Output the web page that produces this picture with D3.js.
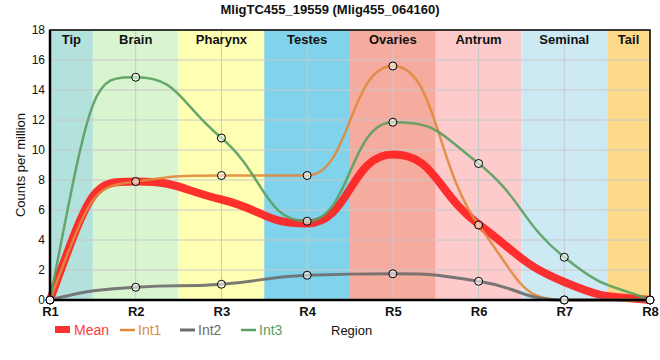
<!DOCTYPE html>
<html><head><meta charset="utf-8">
<script src="https://cdn.jsdelivr.net/npm/d3@7"></script>
<style>body{margin:0;background:#fff;font-family:"Liberation Sans",Arial,sans-serif;}</style>
</head><body><svg id="c" width="660" height="360"></svg>
<script>
const regions = ["R1","R2","R3","R4","R5","R6","R7","R8"];
const tissues = ["Tip","Brain","Pharynx","Testes","Ovaries","Antrum","Seminal","Tail"];
const tissueColors = ["#b3e2dd","#d8f5cf","#ffffb3","#80d3ea","#f5ab9e","#fdcbcb","#cdeaf4","#fdd98a"];
const int1 = [0, 7.9, 8.3, 8.3, 15.6, 5.0, 0, 0];
const int2 = [0, 0.85, 1.05, 1.65, 1.75, 1.25, 0, 0];
const int3 = [0, 14.85, 10.8, 5.25, 11.85, 9.1, 2.85, 0];
const meanVals = [0, 7.9, 6.7, 5.1, 9.7, 5.05, 1.2, 0];
const yTicks = [0,2,4,6,8,10,12,14,16,18];

const svg = d3.select("#c");
const M = {l:50, r:650, t:30, b:300};
const x = d3.scalePoint().domain(regions).range([M.l, M.r]);
const y = d3.scaleLinear().domain([0,18]).range([M.b, M.t]);
const step = x.step();
const bandX0 = i => Math.max(M.l, x(regions[i]) - step/2);
const bandX1 = i => Math.min(M.r, x(regions[i]) + step/2);

// monotone slopes (per region step), flat at local extrema
function slopes(v){
  const n = v.length, s = [];
  for(let i=0;i<n-1;i++) s.push(v[i+1]-v[i]);
  const m = new Array(n).fill(0);
  for(let i=1;i<n-1;i++){
    const a = s[i-1], b = s[i];
    if(a*b <= 0) continue;
    m[i] = Math.sign(b) * Math.min(2*Math.abs(a), 2*Math.abs(b), Math.abs((a+b)/2));
  }
  const ends = [[0, s[0], m[1]], [n-1, s[n-2], m[n-2]]];
  ends.forEach(([i, sec, adj])=>{
    if(sec === 0){ m[i] = 0; return; }
    let e = 2*sec - 0.75*adj;
    if(e*sec < 0) e = 0;
    if(Math.abs(e) > 2*Math.abs(sec)) e = 2*sec;
    m[i] = e;
  });
  return m;
}
// smooth, overshoot-free path with half-step Bezier handles
function smoothPath(v){
  const m = slopes(v);
  const p = d3.path();
  p.moveTo(x(regions[0]), y(v[0]));
  for(let i=0;i<v.length-1;i++){
    const x0 = x(regions[i]), x1 = x(regions[i+1]), h = x1-x0;
    p.bezierCurveTo(x0+h/2, y(v[i]+m[i]/2), x1-h/2, y(v[i+1]-m[i+1]/2), x1, y(v[i+1]));
  }
  return p.toString();
}

// bands
svg.append("g").selectAll("rect").data(tissues).join("rect")
  .attr("x", (d,i)=> bandX0(i)).attr("width", (d,i)=> bandX1(i)-bandX0(i))
  .attr("y", M.t).attr("height", M.b - M.t)
  .attr("fill", (d,i)=> tissueColors[i]);

// grid
const g = svg.append("g");
g.selectAll(".gy").data(yTicks).join("line")
  .attr("x1", M.l).attr("x2", M.r).attr("y1", d=>y(d)).attr("y2", d=>y(d))
  .attr("stroke", "#c8c8c8").attr("stroke-width", 1);
g.selectAll(".gx").data(regions).join("line")
  .attr("x1", d=>x(d)).attr("x2", d=>x(d)).attr("y1", M.t).attr("y2", M.b)
  .attr("stroke", "#c8c8c8").attr("stroke-width", 1);

// tissue labels
svg.append("g").selectAll("text").data(tissues).join("text")
  .attr("x", (d,i)=> (bandX0(i)+bandX1(i))/2)
  .attr("y", 44).attr("text-anchor","middle")
  .attr("font-size", 13).attr("font-weight","bold").attr("fill","#111")
  .text(d=>d);

// lines
svg.append("path").attr("d", smoothPath(meanVals)).attr("fill","none")
  .attr("stroke","#ff1f1f").attr("stroke-opacity",0.92).attr("stroke-width",8);
const series = [
  {name:"Int1", vals:int1, color:"#e0893c", w:2.5},
  {name:"Int2", vals:int2, color:"#6b6b6b", w:3},
  {name:"Int3", vals:int3, color:"#5a9e60", w:2.5}
];
series.forEach(s=>{
  svg.append("path").attr("d", smoothPath(s.vals)).attr("fill","none")
    .attr("stroke", s.color).attr("stroke-opacity",0.9).attr("stroke-width", s.w);
});

// axes frame
svg.append("rect").attr("x",M.l).attr("y",M.t).attr("width",M.r-M.l).attr("height",M.b-M.t)
  .attr("fill","none").attr("stroke","#000").attr("stroke-width",1.5);
svg.append("line").attr("x1",M.l).attr("x2",M.l).attr("y1",M.t).attr("y2",M.b+1).attr("stroke","#000").attr("stroke-width",2.5);
svg.append("line").attr("x1",M.l-1).attr("x2",M.r+1).attr("y1",M.b).attr("y2",M.b).attr("stroke","#000").attr("stroke-width",2.5);

// markers
series.forEach(s=>{
  svg.append("g").selectAll("circle").data(s.vals).join("circle")
    .attr("cx",(d,i)=>x(regions[i])).attr("cy",d=>y(d)).attr("r",4)
    .attr("fill","rgba(255,255,255,0.55)").attr("stroke","#000").attr("stroke-width",1);
});

// y axis
const ya = svg.append("g").attr("transform",`translate(${M.l},0)`)
  .call(d3.axisLeft(y).tickValues(yTicks).tickSize(0).tickPadding(5));
ya.select(".domain").remove();
ya.selectAll("text").attr("font-size",12).attr("fill","#111").attr("font-family","Liberation Sans, Arial, sans-serif");
// x axis
const xa = svg.append("g").attr("transform",`translate(0,${M.b})`)
  .call(d3.axisBottom(x).tickSize(0).tickPadding(7));
xa.select(".domain").remove();
xa.selectAll("text").attr("font-size",13).attr("font-weight","bold").attr("fill","#111").attr("font-family","Liberation Sans, Arial, sans-serif");

// title
svg.append("text").attr("x",330).attr("y",14).attr("text-anchor","middle")
  .attr("font-size",13).attr("font-weight","bold").attr("fill","#111")
  .text("MligTC455_19559 (Mlig455_064160)");
// y label
svg.append("text").attr("transform","translate(25,165) rotate(-90)").attr("text-anchor","middle")
  .attr("font-size",13).attr("fill","#111").text("Counts per million");

// legend
const lg = svg.append("g");
lg.append("rect").attr("x",55).attr("y",326).attr("width",15).attr("height",7).attr("fill","#ff1f1f").attr("opacity",0.92);
lg.append("text").attr("x",74).attr("y",335).attr("font-size",14).attr("fill","#ff3b3b").text("Mean");
series.forEach((s,i)=>{
  const lx = [120,180,241][i];
  lg.append("line").attr("x1",lx).attr("x2",lx+15).attr("y1",330).attr("y2",330).attr("stroke",s.color).attr("stroke-width",s.w);
  lg.append("text").attr("x",lx+18).attr("y",335).attr("font-size",14).attr("fill",s.color).text(s.name);
});
svg.append("text").attr("x",331).attr("y",335).attr("font-size",13).attr("fill","#111").text("Region");
</script></body></html>
